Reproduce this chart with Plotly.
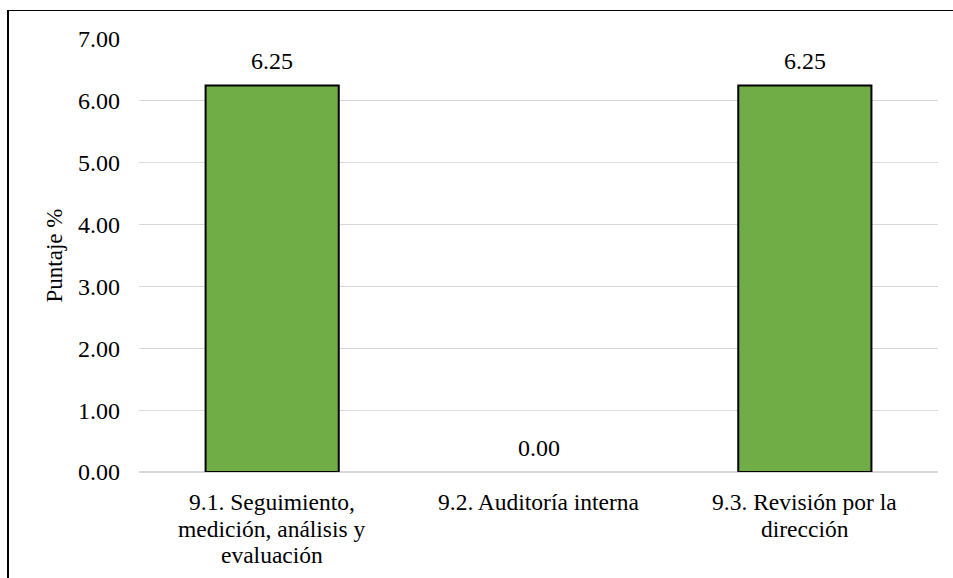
import plotly.graph_objects as go

# Puntaje por subcláusula del capítulo 9 (evaluación del desempeño)
categories = [
    "9.1. Seguimiento, medición, análisis y evaluación",
    "9.2. Auditoría interna",
    "9.3. Revisión por la dirección",
]
label_lines = [
    ["9.1. Seguimiento,", "medición, análisis y", "evaluación"],
    ["9.2. Auditoría interna"],
    ["9.3. Revisión por la", "dirección"],
]
scores = [6.25, 0.00, 6.25]
y_ticks = [0, 1, 2, 3, 4, 5, 6, 7]

FONT = "Times New Roman, Liberation Serif, serif"
W, H = 953, 578
ML, MR, MT, MB = 139, 15, 39, 106
plot_w = W - ML - MR
plot_h = H - MT - MB

fig = go.Figure()
fig.add_trace(go.Bar(
    x=categories,
    y=scores,
    width=0.5,
    marker=dict(
        color="#70AD47",
        line=dict(color="#000000", width=[2 if s > 0 else 0 for s in scores]),
    ),
    hoverinfo="skip",
))

# value labels above each bar
for c, v in zip(categories, scores):
    fig.add_annotation(
        x=c, y=v, xref="x", yref="y",
        text=f"{v:.2f}", showarrow=False,
        yanchor="bottom", yshift=9,
        font=dict(family=FONT, size=24, color="#000000"),
    )

# category labels, one line at a time for tight line spacing
LINE_GAP = 26.5
for c, lines in zip(categories, label_lines):
    for i, line in enumerate(lines):
        fig.add_annotation(
            x=c, y=0, xref="x", yref="y",
            text=line, showarrow=False,
            yanchor="top", yshift=-(15 + i * LINE_GAP),
            font=dict(family=FONT, size=23.5, color="#000000"),
        )

# outer frame
px_to_x = lambda px: (px - ML) / plot_w
px_to_y = lambda py: (H - MB - py) / plot_h
fig.add_shape(type="line", xref="paper", yref="paper",
              x0=px_to_x(8), x1=px_to_x(8), y0=px_to_y(10), y1=px_to_y(640),
              line=dict(color="#000000", width=2))
fig.add_shape(type="line", xref="paper", yref="paper",
              x0=px_to_x(7), x1=px_to_x(1000), y0=px_to_y(10.5), y1=px_to_y(10.5),
              line=dict(color="#000000", width=1.2))

fig.update_layout(
    width=W, height=H,
    margin=dict(l=ML, r=MR, t=MT, b=MB, pad=0),
    paper_bgcolor="#ffffff",
    plot_bgcolor="#ffffff",
    showlegend=False,
    font=dict(family=FONT, size=24, color="#000000"),
    xaxis=dict(
        type="category",
        range=[-0.5, 2.5],
        showticklabels=False, showgrid=False, zeroline=False,
        showline=False, ticks="", fixedrange=True,
    ),
    yaxis=dict(
        range=[0, 7],
        tickvals=y_ticks,
        tickformat=".2f",
        showgrid=True, gridcolor="#d9d9d9", gridwidth=1.3,
        zeroline=True, zerolinecolor="#d9d9d9", zerolinewidth=1.6,
        showline=False, ticks="",
        ticklabelstandoff=18,
        tickfont=dict(family=FONT, size=24, color="#000000"),
        title=dict(text="Puntaje %", standoff=8,
                   font=dict(family=FONT, size=23, color="#000000")),
        fixedrange=True,
    ),
)

fig.write_html("out.html")
